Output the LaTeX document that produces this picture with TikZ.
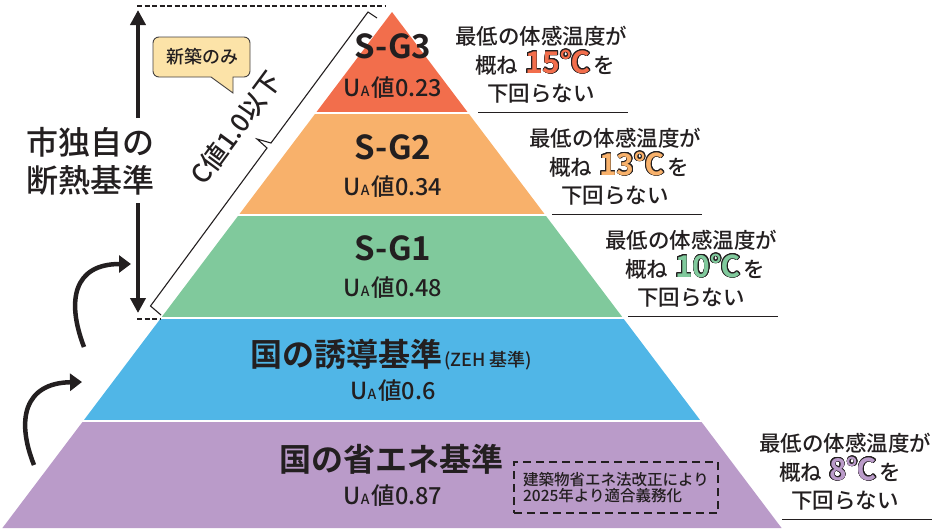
\documentclass[tikz,border=0pt]{standalone}
\usepackage{fontspec}
\setmainfont{Noto Sans CJK JP Medium}[BoldFont={Noto Sans CJK JP Bold}]
\usepackage{contour}
\contourlength{0.7pt}
\usetikzlibrary{arrows.meta}
\definecolor{bandR}{HTML}{F26E4C}
\definecolor{bandO}{HTML}{F8B16B}
\definecolor{bandG}{HTML}{80C99C}
\definecolor{bandB}{HTML}{50B6E7}
\definecolor{bandP}{HTML}{BA9BC9}
\definecolor{ink}{HTML}{231F20}
\definecolor{calloutfill}{HTML}{FCE3A8}
\newcommand\fs[1]{\fontsize{#1}{#1}\selectfont}
\newcommand\uaval[1]{U{\fs{14}A}\hspace{2pt}値#1}
\newcommand\band[3]{\fill[#1] ({392-0.755*(#2-12)},#2) -- ({392+0.755*(#2-12)},#2) -- ({392+0.755*(#3-12)},#3) -- ({392-0.755*(#3-12)},#3) -- cycle;}
% temperature block: name, ux, uy, colour, number
\newcommand\tblock[5]{%
  \node[tline] (#1a) at (#2+63,#3-68) {最低の体感温度が};
  \node[tline, anchor=base west] (#1b) at (#2-3,#3-39) {概ね\hspace{7pt}{\fs{30}\bfseries\color{#4}\contour{ink}{#5℃}}\hspace{3pt}を};
  \node[tline] (#1c) at (#2+63,#3-11) {下回らない};
  \coordinate (#1u1) at (#2,#3);
  \coordinate (#1u2) at (#2+150,#3);
  \draw[ink, line width=0.9] (#1u1) -- (#1u2);
}
\begin{document}
\begin{tikzpicture}[x=1pt,y=-1pt,
  every node/.style={text=ink, inner sep=0pt},
  title/.style={font=\fs{33}\bfseries},
  uval/.style={font=\fs{23.5}},
  tline/.style={font=\fs{21.5}, anchor=base},
  bigarrow/.style={draw=ink, line width=4.2, -{Triangle[length=15pt,width=15pt]}},
  curvearrow/.style={draw=ink, line width=4.5, -{Triangle[length=12pt,width=17pt]}},
  dashline/.style={draw=ink, line width=1.1, dash pattern=on 5pt off 2.5pt},
]
\useasboundingbox (0,0) rectangle (946,528);

% pyramid bands
\band{bandR}{12}{111.8}
\band{bandO}{114.2}{213.8}
\band{bandG}{216.2}{316.8}
\band{bandB}{319.2}{419.8}
\band{bandP}{422.2}{528}

% dashed guide lines
\coordinate (dtl) at (137,6);
\coordinate (dtr) at (386,6);
\coordinate (dbl) at (137,319);
\coordinate (dbr) at (161,319);
\draw[dashline] (dtl) -- (dtr);
\draw[dashline] (dbl) -- (dbr);

% brace along the left edge
\coordinate (b1) at (161,315);
\coordinate (b2) at (150.5,306);
\coordinate (b3) at (267,148);
\coordinate (b4) at (257,139);
\coordinate (b5) at (271,143);
\coordinate (b6) at (368,12);
\coordinate (b7) at (377,18);
\draw[ink, line width=1.1, line join=miter] (b1) -- (b2) -- (b3) -- (b4) -- (b5) -- (b6) -- (b7);

% left label with double arrow
\node[font=\fs{32}, align=center] (own) at (91,161) {市独自の\\[6pt]断熱基準};
\coordinate (a1s) at (138,118);
\coordinate (a1e) at (138,10);
\coordinate (a2s) at (138,203);
\coordinate (a2e) at (138,313);
\draw[bigarrow] (a1s) -- (a1e);
\draw[bigarrow] (a2s) -- (a2e);

% curved arrows
\coordinate (c1s) at (34,465);
\coordinate (c1e) at (82,382);
\coordinate (c2s) at (84,347);
\coordinate (c2e) at (131,264);
\draw[curvearrow] (c1s) .. controls (16,420) and (24,383) .. (c1e);
\draw[curvearrow] (c2s) .. controls (66,300) and (74,264) .. (c2e);

% callout
\draw[fill=calloutfill, draw=ink!85, line width=0.9, rounded corners=6]
  (153,37) -- (250,37) -- (250,77) [sharp corners] -- (233,77) -- (233,93) -- (211,77) [rounded corners=6] -- (153,77) -- cycle;
\node[font=\fs{18}] (new) at (202,57) {新築のみ};

% C value label
\node[font=\fs{26}, rotate=53.5] (cval) at (236,128) {C値1.0以下};

% pyramid labels
\node[title] (sg3) at (393,46) {S-G3};
\node[uval] (sg3u) at (393,88) {\uaval{0.23}};
\node[title] (sg2) at (393,147) {S-G2};
\node[uval] (sg2u) at (393,187) {\uaval{0.34}};
\node[title] (sg1) at (393,248) {S-G1};
\node[uval] (sg1u) at (393,288) {\uaval{0.48}};
\node[font=\fs{32}\bfseries] (zeh) at (391,355) {国の誘導基準{\fs{18}\mdseries\hspace{2pt}(ZEH 基準)}};
\node[uval] (zehu) at (393,391) {\uaval{0.6}};
\node[font=\fs{32}\bfseries] (std) at (391,459) {国の省エネ基準};
\node[uval] (stdu) at (393,496) {\uaval{0.87}};

% dashed note box
\node[draw=ink, line width=1.2, dash pattern=on 8pt off 5pt, minimum width=204, minimum height=51, align=left, font=\fs{15.5}] (note) at (616,487.5) {建築物省エネ法改正により\\[1pt]2025年より適合義務化};

% temperature blocks
\tblock{t3}{478}{112}{bandR}{15}
\tblock{t2}{552}{214}{bandO}{13}
\tblock{t1}{628}{316}{bandG}{10}
\tblock{t0}{782}{519}{bandP}{8}
\end{tikzpicture}
\end{document}
